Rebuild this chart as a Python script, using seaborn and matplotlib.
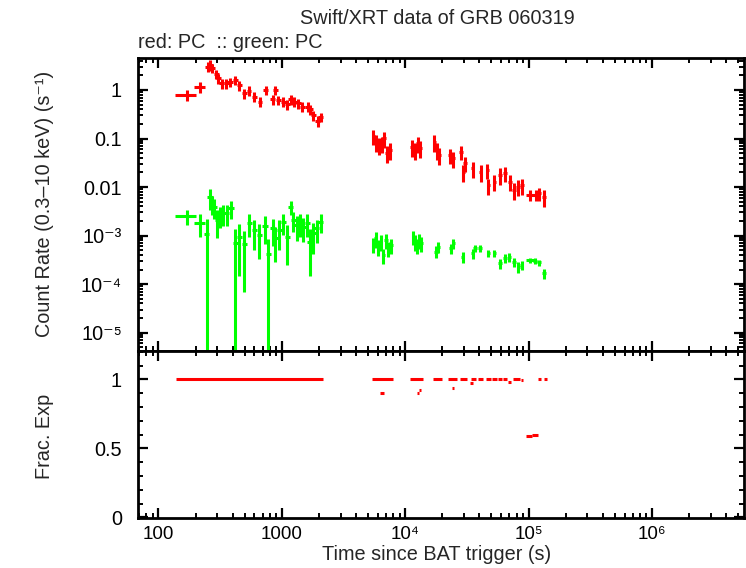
import numpy as np
import pandas as pd
import matplotlib
matplotlib.use('Agg')
import matplotlib.pyplot as plt
import seaborn as sns
from matplotlib.ticker import FixedLocator, FixedFormatter, LogLocator, NullFormatter, MultipleLocator

# red: PC count rate (s)
red_t = [170, 218, 251, 264, 274, 294, 306, 326, 356, 381, 421, 453, 495, 543, 597, 667, 742, 845,
         888, 938, 1030, 1110, 1190, 1265, 1363, 1470, 1625, 1706, 1804, 1958, 2070,
         5520, 5810, 6140, 6460, 6740, 7090, 7540, 11300, 12020, 12640, 13200, 17250, 18050, 18830,
         23120, 24590, 28390, 29640, 30580, 35290, 40980, 46360, 47230, 52810, 58710, 64500, 70800,
         76700, 81700, 88000, 102800, 114300, 122300, 134300]
red_terr = [33, 23, 12, 12, 13, 14, 14, 15, 17, 18, 20, 21, 23, 25, 28, 31, 35, 40,
            42, 44, 48, 52, 56, 59, 64, 69, 76, 80, 85, 92, 97,
            170, 170, 180, 190, 200, 210, 220, 330, 350, 370, 390, 500, 530, 550,
            700, 720, 850, 900, 900, 1100, 1300, 1500, 1500, 1700, 1900, 2100, 2300,
            2600, 2800, 3000, 7700, 5000, 4500, 5000]
red_rate = [0.78, 1.17, 3.02, 3.27, 2.80, 2.14, 1.74, 1.37, 1.37, 1.44, 1.61, 1.25, 0.855, 0.97, 0.73,
            0.574, 1.0, 0.643, 1.0, 0.622, 0.574, 0.515, 0.643, 0.574, 0.532, 0.453, 0.453, 0.40,
            0.305, 0.233, 0.274,
            0.113, 0.086, 0.074, 0.080, 0.101, 0.0497, 0.058, 0.068, 0.058, 0.080, 0.063, 0.086,
            0.058, 0.0458, 0.0458, 0.039, 0.0536, 0.0208, 0.031, 0.0244, 0.0208, 0.0225, 0.011,
            0.0129, 0.0177, 0.0192, 0.0129, 0.0087, 0.0102, 0.011, 0.0069, 0.0069, 0.0074, 0.0063]
red_err = [0.2, 0.3, 0.7, 0.8, 0.6, 0.45, 0.4, 0.3, 0.3, 0.3, 0.35, 0.28, 0.2, 0.22, 0.17, 0.13,
           0.22, 0.15, 0.22, 0.14, 0.13, 0.12, 0.15, 0.13, 0.12, 0.1, 0.1, 0.09, 0.07, 0.06, 0.06,
           0.04, 0.032, 0.028, 0.03, 0.038, 0.019, 0.022, 0.026, 0.022, 0.03, 0.024, 0.032, 0.022,
           0.017, 0.016, 0.014, 0.018, 0.008, 0.011, 0.009, 0.008, 0.008, 0.004, 0.0045, 0.0065,
           0.0065, 0.0045, 0.0032, 0.0038, 0.004, 0.0018, 0.0018, 0.0022, 0.0024]

# green: PC hardness-band rate
green_t = [170, 218, 247, 262, 271, 283, 301, 316, 332, 358, 388, 421, 453, 497, 546, 599, 658, 732,
           779, 845, 883, 957, 1030, 1110, 1183, 1241, 1323, 1407, 1497, 1612, 1694, 1804, 1921, 2070,
           5520, 5780, 6070, 6350, 6660, 7000, 7310, 7690, 11640, 12020, 12550, 13030, 13450, 17790,
           18570, 23420, 24590, 29300, 35290, 36850, 40440, 47230, 52810, 58710, 64500, 69900, 76300,
           82700, 88000, 102800, 112900, 122300, 134300]
green_terr = [33, 23, 12, 13, 13, 14, 15, 15, 16, 17, 19, 20, 22, 24, 26, 29, 32, 35,
              37, 40, 42, 46, 49, 53, 56, 59, 63, 67, 71, 77, 81, 86, 92, 98,
              170, 170, 180, 190, 200, 210, 220, 230, 350, 360, 380, 390, 400, 530,
              560, 700, 740, 900, 1100, 1100, 1300, 1500, 1600, 1800, 2000, 2100, 2300,
              2500, 2700, 7700, 5000, 4500, 5000]
green_rate = [0.00254, 0.00185, 0.00108, 0.00634, 0.00463, 0.00395, 0.0021, 0.00266, 0.00288, 0.00288,
              0.00366, 0.000695, 0.00095, 0.00067, 0.00185, 0.0013, 0.00103, 0.00158, 0.00042, 0.00142,
              0.00088, 0.0013, 0.00194, 0.00095, 0.00395, 0.0021, 0.00166, 0.00185, 0.00153, 0.00185,
              0.00075, 0.00112, 0.00142, 0.00194,
              0.00067, 0.00088, 0.00059, 0.00075, 0.0004, 0.00081, 0.00055, 0.00064, 0.00095, 0.00075,
              0.00064, 0.00081, 0.0007, 0.00047, 0.00059, 0.00055, 0.0007, 0.00037, 0.00043, 0.00055,
              0.00055, 0.00043, 0.00043, 0.00027, 0.00034, 0.00036, 0.00029, 0.00023, 0.00025, 0.00031,
              0.0003, 0.00028, 0.00017]
green_err = [0.0009, 0.0009, 0.0011, 0.003, 0.002, 0.0018, 0.0012, 0.0012, 0.0013, 0.0013, 0.0015,
             0.0007, 0.0008, 0.0006, 0.0009, 0.0008, 0.0007, 0.0009, 0.00043, 0.0008, 0.0006, 0.0008,
             0.0009, 0.0007, 0.0013, 0.0009, 0.0009, 0.0009, 0.0008, 0.0009, 0.0006, 0.0007, 0.0007,
             0.0008,
             0.00024, 0.00032, 0.00021, 0.00026, 0.00014, 0.00029, 0.00019, 0.00023, 0.00032, 0.00026,
             0.00022, 0.00028, 0.00023, 0.00013, 0.00016, 0.00013, 0.00016, 0.0001, 0.0001, 0.00009,
             0.00008, 0.00007, 0.00007, 0.00006, 0.00007, 0.00007, 0.00006, 0.00006, 0.00005, 0.00004,
             0.00004, 0.00004, 0.00004]

# fractional exposure segments
frac_lo = [138, 5360, 6270, 10970, 12470, 12960, 16750, 22390, 23770, 27840, 34000, 33560, 39200,
           45300, 50900, 56200, 62500, 68600, 74500, 86500, 95500, 106200, 119700, 134400]
frac_hi = [2170, 8020, 6740, 13900, 12960, 13450, 19820, 26170, 24670, 31560, 37540, 35770, 42550,
           49700, 55200, 60700, 66600, 71700, 85400, 90800, 106200, 119700, 125200, 141300]
frac_val = [1.0, 1.0, 0.90, 1.0, 0.90, 0.925, 1.0, 1.0, 0.94, 1.0, 1.0, 0.976, 1.0,
            1.0, 1.0, 1.0, 1.0, 0.98, 1.0, 0.993, 0.587, 0.594, 1.0, 1.0]

rate_ticks = [1, 0.1, 0.01, 1e-3, 1e-4, 1e-5]
rate_labels = ['1', '0.1', '0.01', '10\u207b\u00b3', '10\u207b\u2074', '10\u207b\u2075']
time_ticks = [100, 1000, 1e4, 1e5, 1e6]
time_labels = ['100', '1000', '10\u2074', '10\u2075', '10\u2076']
frac_ticks = [0, 0.5, 1]
frac_labels = ['0', '0.5', '1']

red = pd.DataFrame({'t': red_t, 'dt': red_terr, 'rate': red_rate, 'err': red_err})
green = pd.DataFrame({'t': green_t, 'dt': green_terr, 'rate': green_rate, 'err': green_err})
frac = pd.DataFrame({'lo': frac_lo, 'hi': frac_hi, 'val': frac_val})

sns.set_theme(style='ticks')
plt.rcParams['font.family'] = ['Liberation Sans', 'DejaVu Sans']

fs = 14.3
fig = plt.figure(figsize=(7.46, 5.68), dpi=100)
ax1 = fig.add_axes([138 / 746, 1 - 350.5 / 568, 606 / 746, 292.5 / 568])
ax2 = fig.add_axes([138 / 746, 1 - 518 / 568, 606 / 746, 167.5 / 568], sharex=ax1)

ax1.errorbar(red['t'], red['rate'], xerr=red['dt'], yerr=red['err'], fmt='none',
             ecolor='#ff0000', elinewidth=2.2, capsize=0)
ax1.errorbar(green['t'], green['rate'], xerr=green['dt'], yerr=green['err'], fmt='none',
             ecolor='#00ff00', elinewidth=2.2, capsize=0)
ax2.hlines(frac['val'], frac['lo'], frac['hi'], colors='#ff0000', lw=2.2)

ax1.set_xscale('log')
ax1.set_yscale('log')
ax1.set_xlim(68.4, 5.57e6)
ax1.set_ylim(4.3e-6, 4.56)
ax2.set_ylim(-0.004, 1.209)

ax1.yaxis.set_major_locator(FixedLocator(rate_ticks))
ax1.yaxis.set_major_formatter(FixedFormatter(rate_labels))
ax1.yaxis.set_minor_locator(LogLocator(base=10, subs=np.arange(2, 10), numticks=100))
ax1.yaxis.set_minor_formatter(NullFormatter())
ax2.xaxis.set_major_locator(FixedLocator(time_ticks))
ax2.xaxis.set_major_formatter(FixedFormatter(time_labels))
ax2.xaxis.set_minor_locator(LogLocator(base=10, subs=np.arange(2, 10), numticks=100))
ax2.xaxis.set_minor_formatter(NullFormatter())
ax2.yaxis.set_major_locator(FixedLocator(frac_ticks))
ax2.yaxis.set_major_formatter(FixedFormatter(frac_labels))
ax2.yaxis.set_minor_locator(MultipleLocator(0.1))
plt.setp(ax1.get_xticklabels(), visible=False)

for ax in (ax1, ax2):
    for s in ax.spines.values():
        s.set_linewidth(2)
        s.set_color('black')
    ax.tick_params(which='both', direction='in', top=True, right=True, color='black',
                   labelsize=fs, labelcolor='black')
    ax.tick_params(which='major', length=7, width=1.6, pad=11.5)
    ax.tick_params(which='minor', length=3.5, width=1.4)
    ax.grid(False)
ax2.tick_params(axis='x', which='major', pad=6, labelsize=13.5)

fig.text(437 / 746, 1 - 18 / 568, 'Swift/XRT data of GRB 060319', ha='center', va='center', fontsize=fs)
fig.text(138 / 746, 1 - 43 / 568, 'red: PC  :: green: PC', ha='left', va='center', fontsize=fs)
fig.text(45 / 746, 1 - 204 / 568, 'Count Rate (0.3\u201310 keV) (s\u207b\u00b9)', rotation=90,
         ha='center', va='center', fontsize=fs)
fig.text(45 / 746, 1 - 436 / 568, 'Frac. Exp', rotation=90, ha='center', va='center', fontsize=fs)
fig.text(437 / 746, 1 - 555 / 568, 'Time since BAT trigger (s)', ha='center', va='center', fontsize=fs)

fig.savefig('out.png', dpi=100)
